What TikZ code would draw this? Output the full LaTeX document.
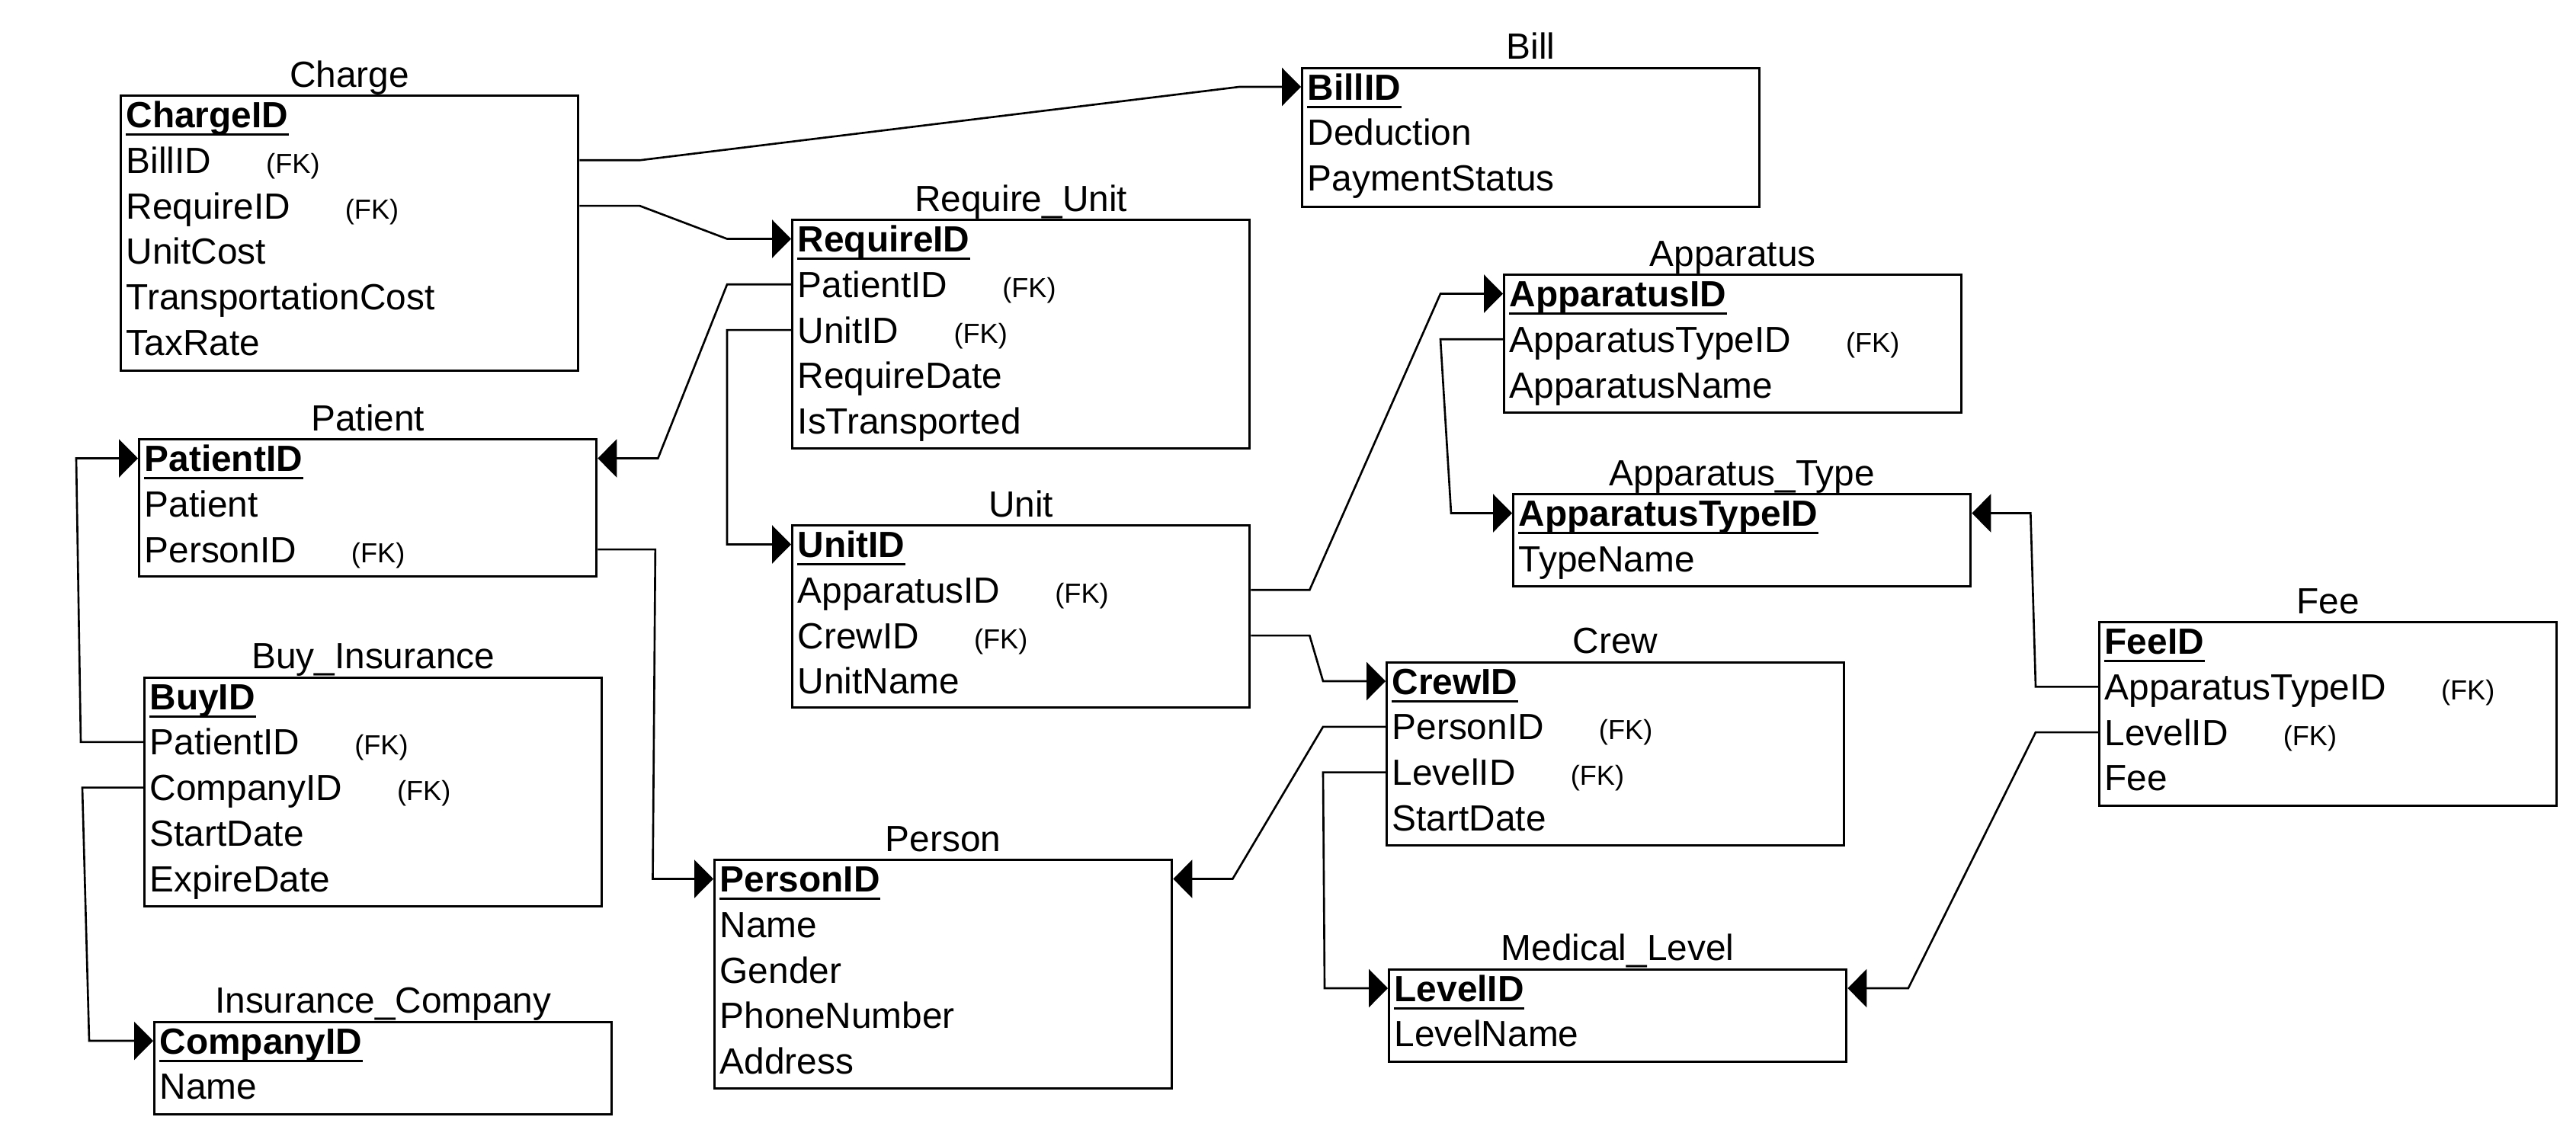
\documentclass[tikz,border=0pt]{standalone}
\usepackage{fontspec}
\setmainfont{Liberation Sans}
\usetikzlibrary{arrows.meta}
\newcommand{\fk}{\hspace{0.72cm}{\fontsize{10.3}{12}\selectfont(FK)}}
\begin{document}
\begin{tikzpicture}[
  font=\fontsize{13.6}{16}\selectfont,
  tbl/.style={draw,line width=0.95pt,minimum width=6cm,inner sep=0,anchor=north west},
  ttl/.style={anchor=base,yshift=0.1cm},
  row/.style={anchor=base west,inner sep=0,text height=0.34cm,text depth=0pt},
  ul/.style={line width=0.85pt},
  ref/.style={line width=0.75pt,-{Triangle[length=0.25cm,width=0.5cm]}}
]
  \useasboundingbox (0,0) rectangle (33.8,-14.86);
  % tables
  \node[tbl,minimum height=3.61cm] (charge) at (1.57,-1.24) {};
  \node[ttl] at (charge.north) {Charge};
  \foreach \txt [count=\i] in {\textbf{ChargeID},BillID\fk,RequireID\fk,UnitCost,TransportationCost,TaxRate}
    \node[row] (charge\i) at ([shift={(0.08,{-0.435-0.598*(\i-1)})}]charge.north west) {\txt};
  \node[tbl,minimum height=1.825cm] (bill) at (17.07,-0.875) {};
  \node[ttl] at (bill.north) {Bill};
  \foreach \txt [count=\i] in {\textbf{BillID},Deduction,PaymentStatus}
    \node[row] (bill\i) at ([shift={(0.08,{-0.435-0.598*(\i-1)})}]bill.north west) {\txt};
  \node[tbl,minimum height=3cm] (require) at (10.38,-2.87) {};
  \node[ttl] at (require.north) {Require\_Unit};
  \foreach \txt [count=\i] in {\textbf{RequireID},PatientID\fk,UnitID\fk,RequireDate,IsTransported}
    \node[row] (require\i) at ([shift={(0.08,{-0.435-0.598*(\i-1)})}]require.north west) {\txt};
  \node[tbl,minimum height=1.8cm] (patient) at (1.81,-5.75) {};
  \node[ttl] at (patient.north) {Patient};
  \foreach \txt [count=\i] in {\textbf{PatientID},Patient,PersonID\fk}
    \node[row] (patient\i) at ([shift={(0.08,{-0.435-0.598*(\i-1)})}]patient.north west) {\txt};
  \node[tbl,minimum height=2.39cm] (unit) at (10.38,-6.88) {};
  \node[ttl] at (unit.north) {Unit};
  \foreach \txt [count=\i] in {\textbf{UnitID},ApparatusID\fk,CrewID\fk,UnitName}
    \node[row] (unit\i) at ([shift={(0.08,{-0.435-0.598*(\i-1)})}]unit.north west) {\txt};
  \node[tbl,minimum height=1.81cm] (apparatus) at (19.72,-3.59) {};
  \node[ttl] at (apparatus.north) {Apparatus};
  \foreach \txt [count=\i] in {\textbf{ApparatusID},ApparatusTypeID\fk,ApparatusName}
    \node[row] (apparatus\i) at ([shift={(0.08,{-0.435-0.598*(\i-1)})}]apparatus.north west) {\txt};
  \node[tbl,minimum height=1.21cm] (atype) at (19.84,-6.47) {};
  \node[ttl] at (atype.north) {Apparatus\_Type};
  \foreach \txt [count=\i] in {\textbf{ApparatusTypeID},TypeName}
    \node[row] (atype\i) at ([shift={(0.08,{-0.435-0.598*(\i-1)})}]atype.north west) {\txt};
  \node[tbl,minimum height=3cm] (buy) at (1.88,-8.875) {};
  \node[ttl] at (buy.north) {Buy\_Insurance};
  \foreach \txt [count=\i] in {\textbf{BuyID},PatientID\fk,CompanyID\fk,StartDate,ExpireDate}
    \node[row] (buy\i) at ([shift={(0.08,{-0.435-0.598*(\i-1)})}]buy.north west) {\txt};
  \node[tbl,minimum height=1.21cm] (company) at (2.01,-13.395) {};
  \node[ttl] at (company.north) {Insurance\_Company};
  \foreach \txt [count=\i] in {\textbf{CompanyID},Name}
    \node[row] (company\i) at ([shift={(0.08,{-0.435-0.598*(\i-1)})}]company.north west) {\txt};
  \node[tbl,minimum height=3cm] (person) at (9.36,-11.27) {};
  \node[ttl] at (person.north) {Person};
  \foreach \txt [count=\i] in {\textbf{PersonID},Name,Gender,PhoneNumber,Address}
    \node[row] (person\i) at ([shift={(0.08,{-0.435-0.598*(\i-1)})}]person.north west) {\txt};
  \node[tbl,minimum height=2.405cm] (crew) at (18.18,-8.675) {};
  \node[ttl] at (crew.north) {Crew};
  \foreach \txt [count=\i] in {\textbf{CrewID},PersonID\fk,LevelID\fk,StartDate}
    \node[row] (crew\i) at ([shift={(0.08,{-0.435-0.598*(\i-1)})}]crew.north west) {\txt};
  \node[tbl,minimum height=1.215cm] (level) at (18.21,-12.705) {};
  \node[ttl] at (level.north) {Medical\_Level};
  \foreach \txt [count=\i] in {\textbf{LevelID},LevelName}
    \node[row] (level\i) at ([shift={(0.08,{-0.435-0.598*(\i-1)})}]level.north west) {\txt};
  \node[tbl,minimum height=2.405cm] (fee) at (27.53,-8.15) {};
  \node[ttl] at (fee.north) {Fee};
  \foreach \txt [count=\i] in {\textbf{FeeID},ApparatusTypeID\fk,LevelID\fk,Fee}
    \node[row] (fee\i) at ([shift={(0.08,{-0.435-0.598*(\i-1)})}]fee.north west) {\txt};
  % primary keys
  \foreach \n in {charge,bill,require,patient,unit,apparatus,atype,buy,company,person,crew,level,fee}
    \draw[ul] ([yshift=-0.09cm]\n1.base west) -- ([yshift=-0.09cm]\n1.base east);
  % foreign keys
  \draw[ref] (charge.east |- charge2) -- ++(0.79,0) -- ([xshift=-0.81cm]bill.west |- bill1) -- (bill.west |- bill1);
  \draw[ref] (charge.east |- charge3) -- ++(0.79,0) -- ([xshift=-0.84cm]require.west |- require1) -- (require.west |- require1);
  \draw[ref] (require.west |- require2) -- ++(-0.84,0) -- ([xshift=0.79cm]patient.east |- patient1) -- (patient.east |- patient1);
  \draw[ref] (require.west |- require3) -- ++(-0.84,0) -- ([xshift=-0.84cm]unit.west |- unit1) -- (unit.west |- unit1);
  \draw[ref] (patient.east |- patient3) -- ++(0.755,0) -- ([xshift=-0.795cm]person.west |- person1) -- (person.west |- person1);
  \draw[ref] (buy.west |- buy2) -- ++(-0.82,0) -- ([xshift=-0.81cm]patient.west |- patient1) -- (patient.west |- patient1);
  \draw[ref] (buy.west |- buy3) -- ++(-0.8,0) -- ([xshift=-0.84cm]company.west |- company1) -- (company.west |- company1);
  \draw[ref] (unit.east |- unit2) -- ++(0.77,0) -- ([xshift=-0.82cm]apparatus.west |- apparatus1) -- (apparatus.west |- apparatus1);
  \draw[ref] (apparatus.west |- apparatus2) -- ++(-0.82,0) -- ([xshift=-0.8cm]atype.west |- atype1) -- (atype.west |- atype1);
  \draw[ref] (fee.west |- fee2) -- ++(-0.82,0) -- ([xshift=0.77cm]atype.east |- atype1) -- (atype.east |- atype1);
  \draw[ref] (unit.east |- unit3) -- ++(0.77,0) -- ([xshift=-0.82cm]crew.west |- crew1) -- (crew.west |- crew1);
  \draw[ref] (crew.west |- crew2) -- ++(-0.82,0) -- ([xshift=0.78cm]person.east |- person1) -- (person.east |- person1);
  \draw[ref] (crew.west |- crew3) -- ++(-0.82,0) -- ([xshift=-0.83cm]level.west |- level1) -- (level.west |- level1);
  \draw[ref] (fee.west |- fee3) -- ++(-0.82,0) -- ([xshift=0.795cm]level.east |- level1) -- (level.east |- level1);
\end{tikzpicture}
\end{document}
